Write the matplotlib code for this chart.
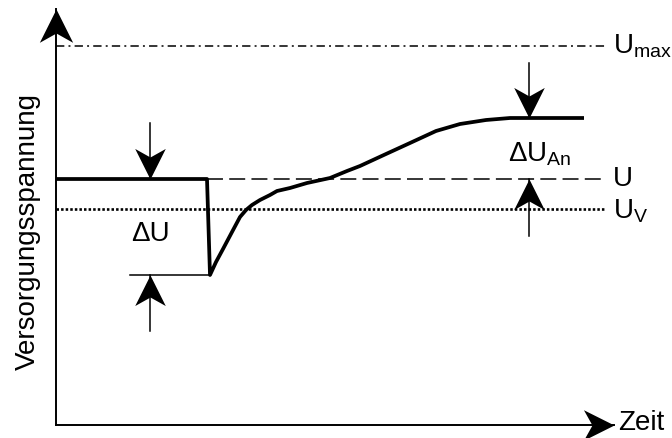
import matplotlib.pyplot as plt
from matplotlib.path import Path
from matplotlib.markers import MarkerStyle
from matplotlib.transforms import Affine2D

plt.rcParams['font.family'] = ['Liberation Sans', 'DejaVu Sans']
plt.rcParams['mathtext.fontset'] = 'custom'
plt.rcParams['mathtext.rm'] = 'Liberation Sans'
plt.rcParams['mathtext.it'] = 'Liberation Sans:italic'
plt.rcParams['lines.scale_dashes'] = False

# Verlauf der Versorgungsspannung (willkuerliche Einheiten)
zeit = [0, 151, 154, 160, 167, 176, 184, 190, 196, 204, 214, 221, 234, 251, 274,
        291, 304, 330, 354, 380, 404, 430, 454, 473, 528]
spannung = [246, 246, 150, 163, 176, 193, 208, 215, 220, 225, 230, 234, 237, 242, 247,
            254, 259, 271, 282, 294, 301, 305, 307, 307, 307]

# Spannungspegel
u_max = 379
u_nenn = 246
u_v = 216
u_min = 150
u_an = 307

t_sprung = 151
t_ende = 549
x_max = 558
y_max = 416

# Pfeilspitze (Spitze bei 0,0, zeigt nach oben)
spitze = Path([(0, 0), (-0.5, -1), (0, -0.72), (0.5, -1), (0, 0)],
              [Path.MOVETO, Path.LINETO, Path.LINETO, Path.LINETO, Path.CLOSEPOLY])


def pfeil_marker(winkel):
    return MarkerStyle(spitze, transform=Affine2D().rotate_deg(winkel))


fig = plt.figure(figsize=(6.72, 4.38), dpi=100)
ax = fig.add_axes([56 / 672, 13 / 438, 558 / 672, 416 / 438])
ax.set_xlim(0, x_max)
ax.set_ylim(0, y_max)
ax.set_xticks([])
ax.set_yticks([])
for s in ['top', 'right']:
    ax.spines[s].set_visible(False)
for s in ['left', 'bottom']:
    ax.spines[s].set_linewidth(1.4)

# Achsenpfeile
ax.plot(0, y_max, marker=pfeil_marker(0), ms=48, color='k', mew=0, clip_on=False)
ax.plot(x_max, 0, marker=pfeil_marker(-90), ms=44, color='k', mew=0, clip_on=False)

# Bezugslinien
ax.plot([0, t_ende], [u_max, u_max], color='k', lw=1.1, dashes=(6, 3, 1.4, 3))
ax.plot([t_sprung, t_ende], [u_nenn, u_nenn], color='k', lw=1.1, dashes=(11.5, 4.5))
ax.plot([0, t_ende], [u_v, u_v], color='k', lw=1.9, dashes=(1.8, 1.5))

# Spannungsverlauf
ax.plot(zeit, spannung, color='k', lw=2.7, solid_joinstyle='round', solid_capstyle='butt')

# Delta U Markierung
t_du = 94
ax.plot([74, 154], [u_min, u_min], color='k', lw=1.1)
ax.plot([t_du, t_du], [302, u_nenn], color='k', lw=1.1)
ax.plot(t_du, u_nenn, marker=pfeil_marker(180), ms=44, color='k', mew=0)
ax.plot([t_du, t_du], [94, u_min], color='k', lw=1.1)
ax.plot(t_du, u_min, marker=pfeil_marker(0), ms=44, color='k', mew=0)
ax.text(t_du, 191, 'ΔU', fontsize=20, ha='center', va='center')

# Delta U_An Markierung
t_dan = 473
ax.plot([t_dan, t_dan], [362, u_an], color='k', lw=1.1)
ax.plot(t_dan, u_an, marker=pfeil_marker(180), ms=44, color='k', mew=0)
ax.plot([t_dan, t_dan], [189, u_nenn], color='k', lw=1.1)
ax.plot(t_dan, u_nenn, marker=pfeil_marker(0), ms=44, color='k', mew=0)
ax.text(452, 271, r'$\mathrm{ΔU}_{\mathrm{An}}$', fontsize=20, ha='left', va='center')

# Beschriftungen rechts
ax.text(557, u_max, r'$\mathrm{U}_{\mathrm{max}}$', fontsize=20, ha='left', va='center', clip_on=False)
ax.text(557, u_nenn, 'U', fontsize=20, ha='left', va='center', clip_on=False)
ax.text(557, u_v - 2, r'$\mathrm{U}_{\mathrm{V}}$', fontsize=20, ha='left', va='center', clip_on=False)
ax.text(562, 2, 'Zeit', fontsize=20, ha='left', va='center', clip_on=False)

fig.text(28 / 672, 1 - 232 / 438, 'Versorgungsspannung', fontsize=20, rotation=90,
         ha='center', va='center')

fig.savefig('out.png', dpi=100)
